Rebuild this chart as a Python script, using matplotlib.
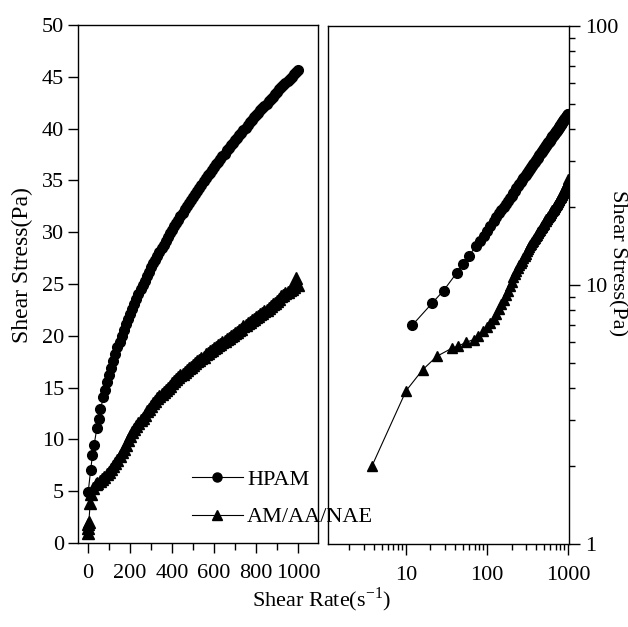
import matplotlib
matplotlib.use('Agg')
import matplotlib.pyplot as plt
from matplotlib.ticker import MultipleLocator, LogLocator, FuncFormatter, NullFormatter
from matplotlib.lines import Line2D

# フォント設定
plt.rcParams['font.family'] = ['Liberation Serif', 'DejaVu Serif']
plt.rcParams['mathtext.fontset'] = 'custom'
plt.rcParams['mathtext.rm'] = 'Liberation Serif'

# HPAM データ
hpam_rate = [0.5, 12, 21, 29, 42, 50, 59, 73, 82, 91,
             100, 110, 120, 130, 140, 150, 160, 170, 180, 190,
             200, 210, 220, 230, 240, 250, 260, 270, 280, 290,
             300, 310, 320, 330, 340, 350, 360, 370, 380, 390,
             400, 410, 420, 430, 440, 450, 460, 470, 480, 490,
             500, 510, 520, 530, 540, 550, 560, 570, 580, 590,
             600, 610, 620, 630, 640, 650, 660, 670, 680, 690,
             700, 710, 720, 730, 740, 750, 760, 770, 780, 790,
             800, 810, 820, 830, 840, 850, 860, 870, 880, 890,
             900, 910, 920, 930, 940, 950, 960, 970, 980, 990, 1000]
hpam_stress = [4.9, 7.0, 8.5, 9.5, 11.1, 12.0, 12.9, 14.1, 14.8, 15.5,
               16.2, 16.9, 17.6, 18.2, 18.9, 19.4, 20.0, 20.6, 21.1, 21.6,
               22.1, 22.6, 23.1, 23.6, 24.0, 24.5, 24.9, 25.3, 25.8, 26.2,
               26.6, 27.0, 27.3, 27.7, 28.1, 28.5, 28.8, 29.2, 29.5, 29.9,
               30.2, 30.6, 30.9, 31.2, 31.6, 31.9, 32.2, 32.5, 32.8, 33.1,
               33.4, 33.7, 34.0, 34.3, 34.6, 34.9, 35.2, 35.5, 35.7, 36.0,
               36.3, 36.6, 36.8, 37.1, 37.4, 37.6, 37.9, 38.1, 38.4, 38.6,
               38.9, 39.1, 39.4, 39.6, 39.9, 40.1, 40.4, 40.6, 40.8, 41.1,
               41.3, 41.5, 41.8, 42.0, 42.2, 42.4, 42.7, 42.9, 43.1, 43.3,
               43.5, 43.8, 44.0, 44.2, 44.4, 44.6, 44.8, 45.0, 45.3, 45.5, 45.7]

# AM/AA/NAE データ
nae_rate = [0.3, 0.6, 0.9, 3.8, 10, 16, 24, 37, 44, 55, 68, 78, 90,
            100, 110, 120, 130, 140, 150, 160, 170, 180, 190,
            200, 210, 220, 230, 240, 250, 260, 270, 280, 290,
            300, 310, 320, 330, 340, 350, 360, 370, 380, 390,
            400, 410, 420, 430, 440, 450, 460, 470, 480, 490,
            500, 510, 520, 530, 540, 550, 560, 570, 580, 590,
            600, 610, 620, 630, 640, 650, 660, 670, 680, 690,
            700, 710, 720, 730, 740, 750, 760, 770, 780, 790,
            800, 810, 820, 830, 840, 850, 860, 870, 880, 890,
            900, 910, 920, 930, 940, 950, 960, 970, 980, 990, 1000]
nae_stress = [1.0, 1.4, 1.8, 2.0, 3.9, 4.7, 5.3, 5.7, 5.8, 6.0, 6.15, 6.35, 6.65,
              6.9, 7.1, 7.4, 7.7, 8.05, 8.4, 8.75, 9.1, 9.5, 9.9,
              10.3, 10.7, 11.0, 11.3, 11.6, 11.9, 12.1, 12.4, 12.7, 12.9,
              13.2, 13.5, 13.7, 14.0, 14.2, 14.4, 14.6, 14.8, 15.0, 15.2,
              15.4, 15.6, 15.8, 16.0, 16.2, 16.3, 16.5, 16.7, 16.9, 17.0,
              17.2, 17.4, 17.6, 17.7, 17.9, 18.0, 18.2, 18.3, 18.5, 18.6,
              18.8, 18.9, 19.1, 19.2, 19.4, 19.5, 19.7, 19.8, 20.0, 20.1,
              20.3, 20.4, 20.6, 20.7, 20.9, 21.0, 21.2, 21.3, 21.5, 21.6,
              21.8, 21.9, 22.1, 22.2, 22.4, 22.5, 22.7, 22.9, 23.1, 23.2,
              23.4, 23.6, 23.8, 23.9, 24.1, 24.2, 24.4, 24.5, 24.7, 25.6, 24.9]

labels = ['HPAM', 'AM/AA/NAE']
fs = 16

fig = plt.figure(figsize=(6.28, 6.27), dpi=100)
ax1 = fig.add_axes([0.1242, 0.134, 0.3822, 0.826])
ax2 = fig.add_axes([0.5223, 0.1324, 0.383, 0.8266])
ax2.set_facecolor('none')

# 左: 線形軸
ax1.plot(hpam_rate, hpam_stress, 'k-', marker='o', ms=7, lw=0.8, clip_on=False)
ax1.plot(nae_rate, nae_stress, 'k-', marker='^', ms=8, lw=0.8, clip_on=False)
ax1.set_xlim(-48, 1095)
ax1.set_ylim(0, 50)
ax1.xaxis.set_major_locator(MultipleLocator(200))
ax1.xaxis.set_minor_locator(MultipleLocator(100))
ax1.yaxis.set_major_locator(MultipleLocator(5))
ax1.tick_params(axis='both', which='major', direction='out', length=7, width=1, labelsize=fs, pad=3)
ax1.tick_params(axis='x', which='both', pad=8)
ax1.tick_params(axis='x', which='minor', direction='out', length=5, width=1)
ax1.tick_params(right=False, top=False)

# 右: 対数軸 (1 s-1 以下の点は表示範囲外)
h_x = [r for r in hpam_rate if r > 1]
h_y = [s for r, s in zip(hpam_rate, hpam_stress) if r > 1]
n_x = [r for r in nae_rate if r > 1]
n_y = [s for r, s in zip(nae_rate, nae_stress) if r > 1]
ax2.plot(h_x, h_y, 'k-', marker='o', ms=7, lw=0.8)
ax2.plot(n_x, n_y, 'k-', marker='^', ms=7.5, lw=0.8)
ax2.set_xscale('log')
ax2.set_yscale('log')
ax2.set_xlim(1.09, 1010)
ax2.set_ylim(1, 100)
ax2.yaxis.tick_right()
fmt = FuncFormatter(lambda v, p: '%g' % v)
ax2.xaxis.set_major_locator(LogLocator(base=10))
ax2.yaxis.set_major_locator(LogLocator(base=10))
ax2.xaxis.set_minor_locator(LogLocator(base=10, subs=range(2, 10)))
ax2.yaxis.set_minor_locator(LogLocator(base=10, subs=range(2, 10)))
ax2.xaxis.set_major_formatter(fmt)
ax2.yaxis.set_major_formatter(fmt)
ax2.xaxis.set_minor_formatter(NullFormatter())
ax2.yaxis.set_minor_formatter(NullFormatter())
ax2.tick_params(axis='both', which='major', direction='out', length=8, width=1, labelsize=fs)
ax2.tick_params(axis='both', which='minor', direction='out', length=4, width=1)
ax2.tick_params(axis='x', which='both', pad=8)
ax2.tick_params(axis='y', which='major', pad=4)
ax2.tick_params(left=False, top=False, which='both')

for ax in (ax1, ax2):
    for s in ax.spines.values():
        s.set_linewidth(1.0)

# ラベル
fig.text(0.035, 0.578, 'Shear Stress(Pa)', rotation=90, ha='center', va='center', fontsize=17)
fig.text(0.982, 0.58, 'Shear Stress(Pa)', rotation=270, ha='center', va='center', fontsize=16)
fig.text(0.512, 0.043, r'Shear Rate(s$^{\mathregular{-1}}$)', ha='center', va='center', fontsize=fs)

# 凡例
handles = [Line2D([], [], color='k', lw=0.8, marker='o', ms=6.5),
           Line2D([], [], color='k', lw=0.8, marker='^', ms=7)]
fig.legend(handles, labels, loc='upper left', bbox_to_anchor=(0.305, 0.251), frameon=False,
           fontsize=fs, handlelength=2.3, handletextpad=0.2, labelspacing=0.75,
           borderpad=0, borderaxespad=0)

plt.savefig('out.png', dpi=100)
